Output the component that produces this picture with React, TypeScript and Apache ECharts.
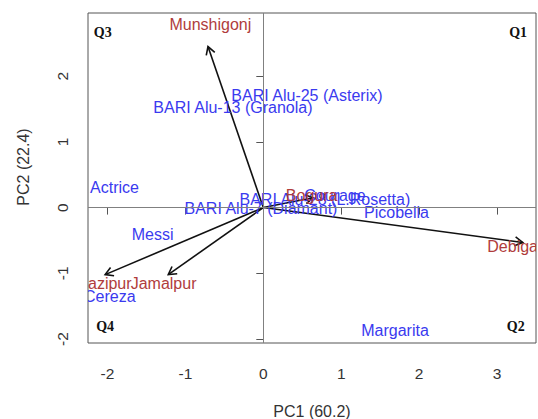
import React, { useEffect, useRef } from "react";
import * as echarts from "echarts";

// Genotype scores (blue labels)
const genotypeNames = [
  "BARI Alu-25 (Asterix)",
  "BARI Alu-13 (Granola)",
  "Actrice",
  "Messi",
  "Cereza",
  "BARI Alu-7 (Diamant)",
  "BARI Alu-28 (L.Rosetta)",
  "Courage",
  "Picobella",
  "Margarita",
];
const genotypeX = [0.56, -0.39, -1.91, -1.42, -1.97, -0.03, 0.79, 0.92, 1.71, 1.69];
const genotypeY = [1.70, 1.52, 0.30, -0.41, -1.35, -0.02, 0.13, 0.18, -0.08, -1.87];

// Environment vectors (red labels + arrows)
const envNames = ["Munshigonj", "Debiganj", "Gazipur", "Jamalpur", "Bogura"];
const envArrowX = [-0.71, 3.33, -2.03, -1.22, 0.64];
const envArrowY = [2.45, -0.53, -1.02, -1.02, 0.15];
const envLabelX = [-0.68, 3.28, -2.05, -1.28, 0.62];
const envLabelY = [2.78, -0.59, -1.15, -1.15, 0.19];

// Quadrant annotations
const quadNames = ["Q3", "Q1", "Q4", "Q2"];
const quadX = [-2.06, 3.27, -2.03, 3.24];
const quadY = [2.67, 2.67, -1.81, -1.81];

const xTicks = [-2, -1, 0, 1, 2, 3];
const yTicks = [-2, -1, 0, 1, 2];
const xRange = [-2.25, 3.5];
const yRange = [-2.06, 2.96];

const BLUE = "#3a3aef";
const RED = "#b03c3c";
const SANS = "'Liberation Sans', Arial, sans-serif";
const SERIF = "'Liberation Serif', 'Times New Roman', serif";

export default function App() {
  const ref = useRef<HTMLDivElement>(null);

  useEffect(() => {
    if (!ref.current) return;
    const chart = echarts.init(ref.current, null, { renderer: "svg" });

    const labelData: any[] = [];
    genotypeNames.forEach((n, i) => labelData.push([genotypeX[i], genotypeY[i], n, "g"]));
    envNames.forEach((n, i) => labelData.push([envLabelX[i], envLabelY[i], n, "e"]));
    quadNames.forEach((n, i) => labelData.push([quadX[i], quadY[i], n, "q"]));

    const arrowData = envNames.map((n, i) => [envArrowX[i], envArrowY[i], n]);

    const axisCommon = {
      type: "value",
      axisLine: { show: false },
      splitLine: { show: false },
      axisTick: { show: true, length: 7, lineStyle: { color: "#555", width: 1 } },
    };

    const option: any = {
      animation: false,
      grid: {
        left: 88,
        right: 2,
        top: 13,
        bottom: 76,
        show: true,
        borderColor: "#555",
        borderWidth: 1,
        backgroundColor: "transparent",
        containLabel: false,
        outerBoundsMode: "none",
      },
      xAxis: {
        ...axisCommon,
        min: xRange[0],
        max: xRange[1],
        axisTick: { ...axisCommon.axisTick, customValues: xTicks },
        axisLabel: {
          customValues: xTicks,
          margin: 22,
          fontSize: 15.5,
          fontFamily: SANS,
          color: "#333",
        },
        name: "PC1 (60.2)",
        nameLocation: "middle",
        nameGap: 60,
        nameTextStyle: { fontSize: 16, fontFamily: SANS, color: "#333" },
      },
      yAxis: {
        ...axisCommon,
        min: yRange[0],
        max: yRange[1],
        axisTick: { ...axisCommon.axisTick, customValues: yTicks },
        axisLabel: {
          customValues: yTicks,
          rotate: 90,
          margin: 18,
          fontSize: 15.5,
          fontFamily: SANS,
          color: "#333",
        },
      },
      graphic: [
        {
          type: "text",
          x: 23,
          y: 167,
          rotation: Math.PI / 2,
          style: {
            text: "PC2 (22.4)",
            fill: "#333",
            font: `16px ${SANS}`,
            align: "center",
            verticalAlign: "middle",
          },
        },
      ],
      series: [
        {
          type: "scatter",
          data: [],
          silent: true,
          markLine: {
            silent: true,
            symbol: ["none", "none"],
            label: { show: false },
            lineStyle: { color: "#808080", width: 1, type: "solid" },
            data: [{ xAxis: 0 }, { yAxis: 0 }],
          },
        },
        {
          type: "custom",
          clip: true,
          silent: true,
          data: arrowData,
          renderItem: (params: any, api: any) => {
            const p0 = api.coord([0, 0]);
            const p1 = api.coord([api.value(0), api.value(1)]);
            const ang = Math.atan2(p1[1] - p0[1], p1[0] - p0[0]);
            const L = 9;
            const a = Math.PI / 6;
            const h1 = [p1[0] - L * Math.cos(ang - a), p1[1] - L * Math.sin(ang - a)];
            const h2 = [p1[0] - L * Math.cos(ang + a), p1[1] - L * Math.sin(ang + a)];
            return {
              type: "group",
              children: [
                {
                  type: "line",
                  shape: { x1: p0[0], y1: p0[1], x2: p1[0], y2: p1[1] },
                  style: { stroke: "#111", lineWidth: 1.6 },
                },
                {
                  type: "polyline",
                  shape: { points: [h1, p1, h2] },
                  style: { stroke: "#111", lineWidth: 1.6, fill: null },
                },
              ],
            };
          },
        },
        {
          type: "custom",
          clip: true,
          silent: true,
          data: labelData,
          renderItem: (params: any, api: any) => {
            const item = labelData[params.dataIndex];
            const p = api.coord([item[0], item[1]]);
            const kind = item[3];
            const isQ = kind === "q";
            return {
              type: "text",
              x: p[0],
              y: p[1],
              style: {
                text: item[2],
                fill: kind === "g" ? BLUE : kind === "e" ? RED : "#111",
                font: isQ ? `bold 14px ${SERIF}` : `16px ${SANS}`,
                align: "center",
                verticalAlign: "middle",
              },
            };
          },
        },
      ],
    };

    chart.setOption(option);
    return () => chart.dispose();
  }, []);

  return (
    <div
      ref={ref}
      style={{ position: "absolute", left: 0, top: 0, width: 538, height: 419 }}
    />
  );
}
